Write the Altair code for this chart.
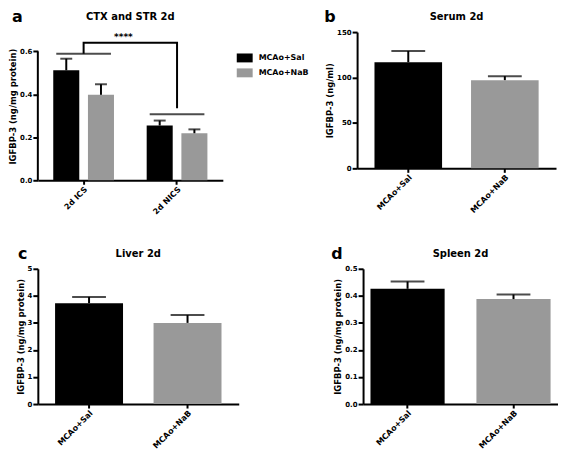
import altair as alt
import pandas as pd

FONT = "DejaVu Sans"

# ---------------- data ----------------
treatments = ["MCAo+Sal", "MCAo+NaB"]
bar_colors = ["#000000", "#999999"]

# panel a: CTX and STR 2d
ctx_regions = ["2d ICS", "2d ICS", "2d NICS", "2d NICS"]
ctx_treat = ["MCAo+Sal", "MCAo+NaB", "MCAo+Sal", "MCAo+NaB"]
ctx_mean = [0.512, 0.398, 0.255, 0.219]
ctx_upper = [0.566, 0.447, 0.278, 0.237]
region_order = ["2d ICS", "2d NICS"]

sig_regions = ["2d ICS", "2d NICS"]
sig_level = [0.589, 0.307]
bracket_regions = ["2d ICS", "2d ICS", "2d NICS", "2d NICS"]
bracket_level = [0.589, 0.640, 0.640, 0.335]
bracket_step = [0, 1, 2, 3]
star_label = ["****"]
star_level = [0.668]

# panel b: Serum 2d
serum_mean = [116.8, 97.1]
serum_upper = [129.2, 101.5]
# panel c: Liver 2d
liver_mean = [3.73, 3.00]
liver_upper = [3.96, 3.29]
# panel d: Spleen 2d
spleen_mean = [0.426, 0.388]
spleen_upper = [0.453, 0.405]

# ---------------- shared encodings ----------------
color_enc = alt.Color(
    "treat:N",
    sort=treatments,
    scale=alt.Scale(domain=treatments, range=bar_colors),
    legend=alt.Legend(
        title=None,
        orient="none",
        legendX=200,
        legendY=18,
        symbolType="M-1,-0.56H1V0.56H-1Z",
        symbolSize=256,
        symbolStrokeWidth=0,
        symbolOpacity=1,
        labelFont=FONT,
        labelFontWeight="bold",
        labelFontSize=8,
        labelColor="black",
        labelOffset=6,
        rowPadding=2,
    ),
)


def letter_layer(letter, dx):
    return alt.Chart(pd.DataFrame({"letter": [letter]})).mark_text(
        font=FONT, fontSize=16, fontWeight="bold", align="left", baseline="top", color="black"
    ).encode(text="letter:N", x=alt.value(dx), y=alt.value(-23))


def panel_title(text):
    return alt.Title(text, frame="group", anchor="middle", offset=-13)


def y_axis(ticks, fmt, title, show_domain=True):
    return alt.Axis(values=ticks, format=fmt, title=title, domain=show_domain,
                    labelOverlap=False, labelFlush=False)


# ---------------- panel a ----------------
df_a = pd.DataFrame({"region": ctx_regions, "treat": ctx_treat, "mean": ctx_mean, "upper": ctx_upper})
xa = alt.X(
    "region:N",
    sort=region_order,
    scale=alt.Scale(paddingInner=0.35, paddingOuter=0.165),
    axis=alt.Axis(title=None, labelAngle=-45),
)
xoff = alt.XOffset("treat:N", sort=treatments, scale=alt.Scale(paddingInner=0.25, paddingOuter=0))
a_scale = alt.Scale(domain=[0, 0.69], nice=False)
a_yaxis = y_axis([0, 0.2, 0.4, 0.6], ".1f", "IGFBP-3 (ng/mg protein)", show_domain=False)


def ya(field):
    return alt.Y(field, type="quantitative", scale=a_scale, axis=a_yaxis)


a_bars = alt.Chart(df_a).mark_bar().encode(x=xa, xOffset=xoff, y=ya("mean"), color=color_enc)
a_stems = alt.Chart(df_a).mark_rule(color="black", strokeWidth=2).encode(
    x=xa, xOffset=xoff, y=ya("mean"), y2="upper:Q"
)
a_caps = alt.Chart(df_a).mark_tick(color="black", thickness=2, size=12).encode(x=xa, xOffset=xoff, y=ya("upper"))
a_axis = alt.Chart(pd.DataFrame({"lo": [0.0], "hi": [0.6]})).mark_rule(color="black", strokeWidth=2).encode(
    x=alt.value(0), y=ya("lo"), y2="hi:Q"
)
a_sig = alt.Chart(pd.DataFrame({"region": sig_regions, "level": sig_level})).mark_tick(
    color="black", thickness=2, size=55
).encode(x=xa, y=ya("level"))
a_bracket = alt.Chart(
    pd.DataFrame({"region": bracket_regions, "level": bracket_level, "step": bracket_step})
).mark_line(color="black", strokeWidth=2).encode(x=xa, y=ya("level"), order="step:Q")
a_star = alt.Chart(pd.DataFrame({"region": ["2d ICS"], "label": star_label, "level": star_level})).mark_text(
    font=FONT, fontSize=9, fontWeight="bold", dx=40, color="black"
).encode(x=xa, y=ya("level"), text="label:N")

panel_a = alt.layer(
    a_bars, a_stems, a_caps, a_axis, a_sig, a_bracket, a_star, letter_layer("a", -26)
).properties(width=186, height=149, title=panel_title("CTX and STR 2d"))


# ---------------- panels b, c, d ----------------
def simple_panel(means, uppers, title, ytitle, domain, ticks, fmt, width, height, pin, pout, letter, ldx):
    df = pd.DataFrame({"treat": treatments, "mean": means, "upper": uppers})
    x = alt.X(
        "treat:N",
        sort=treatments,
        scale=alt.Scale(paddingInner=pin, paddingOuter=pout),
        axis=alt.Axis(title=None, labelAngle=-45),
    )
    sc = alt.Scale(domain=domain, nice=False)
    ax = y_axis(ticks, fmt, ytitle)

    def yy(field):
        return alt.Y(field, type="quantitative", scale=sc, axis=ax)

    bars = alt.Chart(df).mark_bar().encode(x=x, y=yy("mean"), color=color_enc)
    stems = alt.Chart(df).mark_rule(color="black", strokeWidth=2).encode(x=x, y=yy("mean"), y2="upper:Q")
    caps = alt.Chart(df).mark_tick(color="black", thickness=2, size=34).encode(x=x, y=yy("upper"))
    return alt.layer(bars, stems, caps, letter_layer(letter, ldx)).properties(
        width=width, height=height, title=panel_title(title)
    )


panel_b = simple_panel(serum_mean, serum_upper, "Serum 2d", "IGFBP-3 (ng/ml)", [0, 150], [0, 50, 100, 150],
                       "d", 200, 137, 0.30, 0.18, "b", -33)
panel_c = simple_panel(liver_mean, liver_upper, "Liver 2d", "IGFBP-3 (ng/mg protein)", [0, 5], [0, 1, 2, 3, 4, 5],
                       "d", 202, 136, 0.31, 0.175, "c", -20)
panel_d = simple_panel(spleen_mean, spleen_upper, "Spleen 2d", "IGFBP-3 (ng/mg protein)", [0, 0.5],
                       [0, 0.1, 0.2, 0.3, 0.4, 0.5], ".1f", 196, 136, 0.30, 0.07, "d", -32)

row1 = alt.hconcat(panel_a, panel_b, spacing=102)
row2 = alt.hconcat(panel_c, panel_d, spacing=93)

chart = (
    alt.vconcat(row1, row2, spacing=30)
    .properties(padding=0)
    .configure_view(stroke=None)
    .configure_axis(
        labelFont=FONT, labelFontWeight="bold", labelFontSize=7, labelColor="black",
        titleFont=FONT, titleFontWeight="bold", titleFontSize=8.5, titleColor="black",
        domainColor="black", domainWidth=2, tickColor="black", tickWidth=2, tickSize=5,
        grid=False, labelPadding=1, titlePadding=2,
    )
    .configure_axisX(labelFontSize=8, tickSize=4)
    .configure_title(font=FONT, fontSize=10, fontWeight="bold", color="black")
)

chart.save("out.html", embed_options={"renderer": "svg", "actions": False})
